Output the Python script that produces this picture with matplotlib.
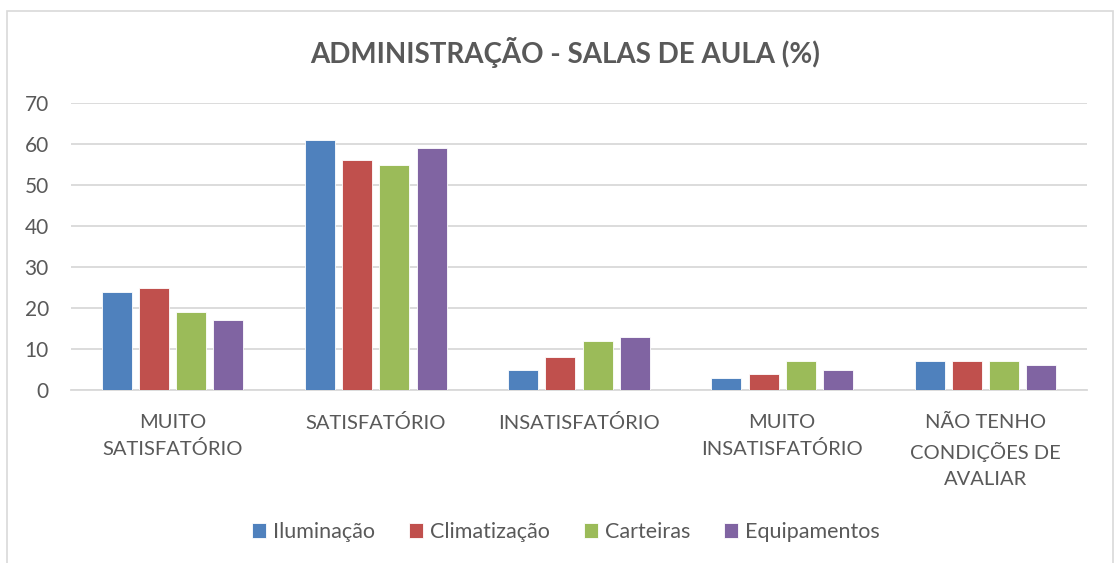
import numpy as np
import matplotlib.pyplot as plt
from matplotlib.patches import Rectangle

plt.rcParams['font.family'] = ['Lato', 'DejaVu Sans']

# Survey results, percent per answer
categories = ['MUITO\nSATISFATÓRIO', 'SATISFATÓRIO', 'INSATISFATÓRIO',
              'MUITO\nINSATISFATÓRIO', 'NÃO TENHO\nCONDIÇÕES DE\nAVALIAR']
series_names = ['Iluminação', 'Climatização', 'Carteiras', 'Equipamentos']
iluminacao = [24, 61, 5, 3, 7]
climatizacao = [25, 56, 8, 4, 7]
carteiras = [19, 55, 12, 7, 7]
equipamentos = [17, 59, 13, 5, 6]
yticks = [0, 10, 20, 30, 40, 50, 60, 70]

colors = ['#4F81BD', '#C0504D', '#9BBB59', '#8064A2']
text_color = '#595959'
grid_color = '#D9D9D9'

fig = plt.figure(figsize=(11.15, 5.63), dpi=100)
ax = fig.add_axes([71 / 1115, 1 - 390 / 563, (1087 - 71) / 1115, (390 - 103) / 563])

# outer chart border
fig.patches.append(Rectangle((7 / 1115, -0.05), (1113 - 7) / 1115, 1.05 - 11 / 563,
                             transform=fig.transFigure, fill=False,
                             edgecolor='#D9D9D9', linewidth=1.2))

x = np.arange(len(categories))
width = 0.148
step = 0.183
data = [iluminacao, climatizacao, carteiras, equipamentos]
for i, (name, vals) in enumerate(zip(series_names, data)):
    ax.bar(x + (i - 1.5) * step, vals, width, color=colors[i], label=name,
           edgecolor='white', linewidth=0.6, zorder=3)

ax.set_xlim(-0.5, len(categories) - 0.5)
ax.set_ylim(0, 70)
ax.set_yticks(yticks)
ax.yaxis.grid(True, color=grid_color, linewidth=1.3, zorder=0)
for s in ['top', 'right', 'left']:
    ax.spines[s].set_visible(False)
ax.spines['bottom'].set_color(grid_color)
ax.spines['bottom'].set_linewidth(1.3)
ax.tick_params(axis='y', length=0, pad=16, labelsize=15, labelcolor=text_color)
ax.tick_params(axis='x', length=0, pad=17, labelsize=14.5, labelcolor=text_color)
ax.set_xticks(x)
ax.set_xticklabels(categories, linespacing=1.65, va='top')

fig.text(565 / 1115, 1 - 52 / 563, 'ADMINISTRAÇÃO - SALAS DE AULA (%)',
         ha='center', va='center', fontsize=20, fontweight='bold', color=text_color)

leg = fig.legend(loc='center', bbox_to_anchor=(566 / 1115, 1 - 532 / 563), ncol=4,
                 frameon=False, fontsize=15.5, handlelength=0.65, handleheight=0.65,
                 handletextpad=0.3, columnspacing=1.6, labelcolor=text_color)

fig.savefig('out.png', dpi=100)
